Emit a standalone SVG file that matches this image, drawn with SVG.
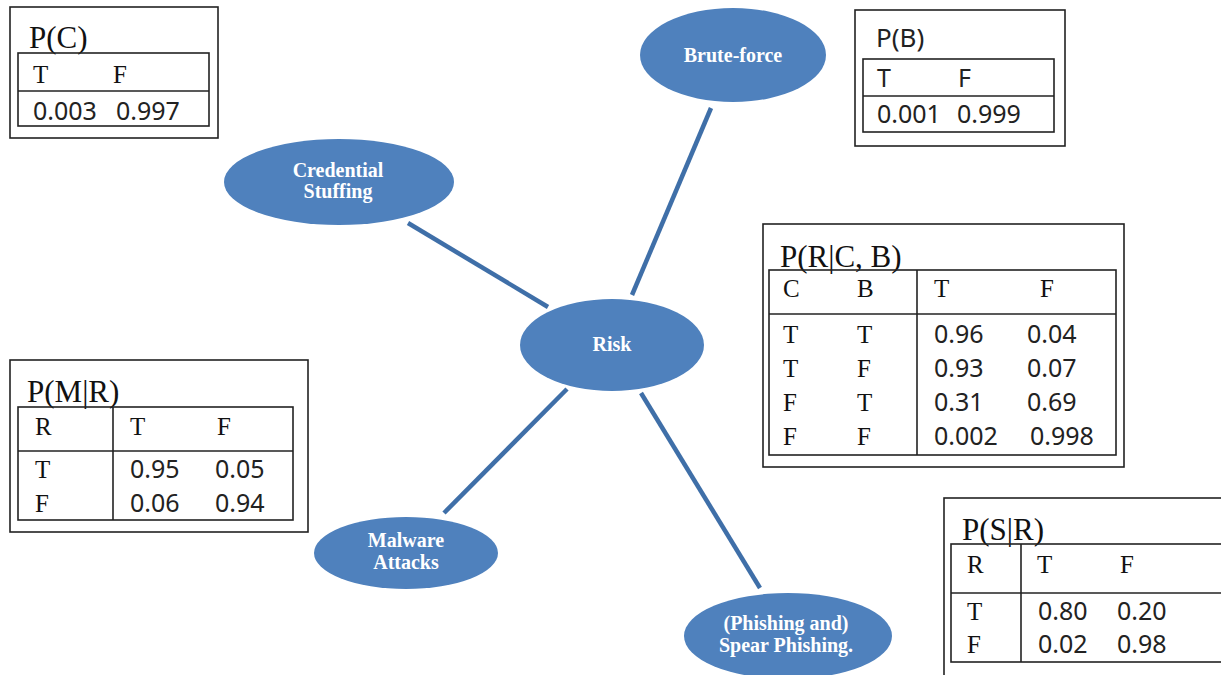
<svg xmlns="http://www.w3.org/2000/svg" width="1221" height="675" viewBox="0 0 1221 675">
<style>
.box{fill:#fff;stroke:#222;stroke-width:1.6}
.grid{fill:none;stroke:#222;stroke-width:1.6}
.ttl{font-family:"Liberation Serif",serif;font-size:31px;fill:#111}
.ser{font-family:"Liberation Serif",serif;font-size:25px;fill:#111}
.num{font-family:"Noto Sans",sans-serif;font-size:25px;fill:#222}
.sttl{font-family:"Noto Sans",sans-serif;font-size:26px;fill:#222}
.node{fill:#4F81BD}
.lbl{font-family:"Liberation Serif",serif;font-size:20px;font-weight:bold;fill:#fff;text-anchor:middle}
.edge{stroke:#3F6FA8;stroke-width:4.5;fill:none}
</style>
<rect width="1221" height="675" fill="#fff"/>
<g id="connectors">
<line class="edge" x1="408" y1="223" x2="548" y2="307"/>
<line class="edge" x1="711" y1="108" x2="632" y2="295"/>
<line class="edge" x1="567" y1="389" x2="444" y2="513"/>
<line class="edge" x1="641" y1="393" x2="760" y2="588"/>
</g>
<g id="node-brute">
<ellipse class="node" cx="733" cy="55" rx="93" ry="47"/>
<text class="lbl" x="733" y="62">Brute-force</text>
</g>
<g id="node-credential">
<ellipse class="node" cx="339" cy="182" rx="115" ry="43"/>
<text class="lbl" x="338" y="177">Credential</text>
<text class="lbl" x="338" y="198">Stuffing</text>
</g>
<g id="node-risk">
<ellipse class="node" cx="612" cy="345" rx="92" ry="46"/>
<text class="lbl" x="612" y="351">Risk</text>
</g>
<g id="node-malware">
<ellipse class="node" cx="406" cy="553" rx="92" ry="36"/>
<text class="lbl" x="406" y="547">Malware</text>
<text class="lbl" x="406" y="569">Attacks</text>
</g>
<g id="node-phishing">
<ellipse class="node" cx="788" cy="636" rx="104" ry="43"/>
<text class="lbl" x="786" y="630">(Phishing and)</text>
<text class="lbl" x="786" y="652">Spear Phishing.</text>
</g>
<g id="cpt-c">
<rect class="box" x="10" y="7" width="208" height="131"/>
<text class="ttl" x="29" y="48">P(C)</text>
<rect class="grid" x="18" y="53" width="191" height="73"/>
<line class="grid" x1="18" y1="91" x2="209" y2="91"/>
<text class="ser" x="33" y="83">T</text>
<text class="ser" x="113" y="83">F</text>
<text class="num" x="33" y="120">0.003</text>
<text class="num" x="116" y="120">0.997</text>
</g>
<g id="cpt-b">
<rect class="box" x="855" y="10" width="210" height="136"/>
<text class="sttl" x="876" y="47">P(B)</text>
<rect class="grid" x="863" y="59" width="191" height="73"/>
<line class="grid" x1="863" y1="96" x2="1054" y2="96"/>
<text class="num" x="877" y="87">T</text>
<text class="num" x="958" y="87">F</text>
<text class="num" x="877" y="123">0.001</text>
<text class="num" x="957" y="123">0.999</text>
</g>
<g id="cpt-r">
<rect class="box" x="763" y="224" width="361" height="243"/>
<text class="ttl" x="780" y="267">P(R|C, B)</text>
<rect class="grid" x="769" y="270" width="347" height="185"/>
<line class="grid" x1="769" y1="314" x2="1116" y2="314"/>
<line class="grid" x1="917" y1="270" x2="917" y2="455"/>
<text class="ser" x="783" y="297">C</text>
<text class="ser" x="857" y="297">B</text>
<text class="ser" x="934" y="297">T</text>
<text class="ser" x="1040" y="297">F</text>
<text class="ser" x="783" y="343">T</text><text class="ser" x="857" y="343">T</text>
<text class="num" x="934" y="343">0.96</text><text class="num" x="1027" y="343">0.04</text>
<text class="ser" x="783" y="377">T</text><text class="ser" x="857" y="377">F</text>
<text class="num" x="934" y="377">0.93</text><text class="num" x="1027" y="377">0.07</text>
<text class="ser" x="783" y="411">F</text><text class="ser" x="857" y="411">T</text>
<text class="num" x="934" y="411">0.31</text><text class="num" x="1027" y="411">0.69</text>
<text class="ser" x="783" y="445">F</text><text class="ser" x="857" y="445">F</text>
<text class="num" x="934" y="445">0.002</text><text class="num" x="1030" y="445">0.998</text>
</g>
<g id="cpt-m">
<rect class="box" x="10" y="360" width="298" height="172"/>
<text class="ttl" x="27" y="402">P(M|R)</text>
<rect class="grid" x="18" y="407" width="275" height="113"/>
<line class="grid" x1="18" y1="451" x2="293" y2="451"/>
<line class="grid" x1="113" y1="407" x2="113" y2="520"/>
<text class="ser" x="35" y="435">R</text>
<text class="ser" x="130" y="435">T</text>
<text class="ser" x="217" y="435">F</text>
<text class="ser" x="35" y="478">T</text>
<text class="num" x="130" y="478">0.95</text><text class="num" x="215" y="478">0.05</text>
<text class="ser" x="35" y="512">F</text>
<text class="num" x="130" y="512">0.06</text><text class="num" x="215" y="512">0.94</text>
</g>
<g id="cpt-s">
<rect class="box" x="944" y="498" width="290" height="190"/>
<text class="ttl" x="962" y="540">P(S|R)</text>
<rect class="grid" x="951" y="544" width="280" height="118"/>
<line class="grid" x1="951" y1="593" x2="1231" y2="593"/>
<line class="grid" x1="1021" y1="544" x2="1021" y2="662"/>
<text class="ser" x="967" y="573">R</text>
<text class="ser" x="1037" y="573">T</text>
<text class="ser" x="1120" y="573">F</text>
<text class="ser" x="967" y="620">T</text>
<text class="num" x="1038" y="620">0.80</text><text class="num" x="1117" y="620">0.20</text>
<text class="ser" x="967" y="653">F</text>
<text class="num" x="1038" y="653">0.02</text><text class="num" x="1117" y="653">0.98</text>
</g>
</svg>
